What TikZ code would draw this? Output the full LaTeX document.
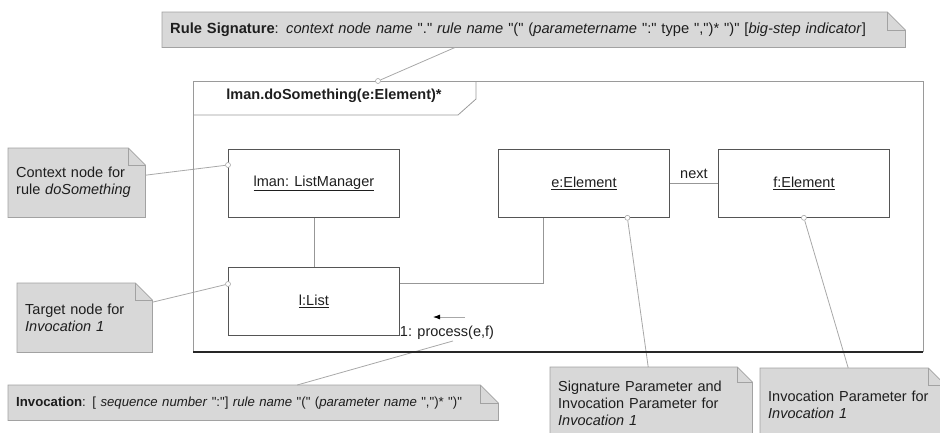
\documentclass[tikz,border=0pt]{standalone}
\usepackage{fontspec}
\setmainfont{Liberation Sans}[Ligatures=TeXOff]
\usetikzlibrary{calc,arrows.meta,backgrounds}

\definecolor{ink}{HTML}{1E1E1E}
\definecolor{notefill}{HTML}{D8D8D8}
\definecolor{noteline}{HTML}{A2A2A2}
\definecolor{boxline}{HTML}{555555}
\definecolor{linkgray}{HTML}{A8A8A8}
\definecolor{framegray}{HTML}{9A9A9A}

\newcommand{\fs}{\fontsize{14.5}{17}\selectfont}

% sheet of a note: filled body with a dog-eared top right corner
\newcommand{\notepaper}[2]{%
  \path[fill=notefill] (#1.north west) -- ([xshift=-#2]#1.north east)
    -- ([yshift=-#2]#1.north east) -- (#1.south east) -- (#1.south west) -- cycle;
  \draw[noteline, line width=0.8pt] (#1.south west) -- (#1.north west)
    -- ([xshift=-#2]#1.north east) -- ([yshift=-#2]#1.north east)
    -- (#1.south east) -- cycle;
  \draw[noteline, line width=0.8pt] ([xshift=-#2]#1.north east) |- ([yshift=-#2]#1.north east);
}

\tikzset{
  note/.style={anchor=north west, inner xsep=8pt, inner ysep=0pt, align=left, font=\fs, text=ink},
  obj/.style={anchor=north west, draw=boxline, line width=0.8pt, minimum width=171pt,
    minimum height=68pt, inner sep=0pt, font=\fs, text=ink},
  port/.style={circle, draw=linkgray, fill=white, inner sep=0pt, minimum size=5pt, line width=0.6pt},
  link/.style={draw=linkgray, line width=0.8pt},
  assoc/.style={draw=linkgray!90!black, line width=0.8pt},
}

\begin{document}
\begin{tikzpicture}[x=1pt, y=-1pt, every node/.style={text=ink}]
\useasboundingbox (0,0) rectangle (940,432);

% frame of the rule
\coordinate (fnw) at (193,81);
\coordinate (fse) at (923,352);
\draw[framegray, line width=0.8pt] (fnw |- fse) -- (fnw) -- (fnw -| fse) -- (fse);
\draw[black!85, line width=1.8pt] (fnw |- fse) -- (fse);
\draw[framegray, line width=0.8pt] (193,115) -- (458,115) -- (476,99) -- (476,81);
\node[font=\fs\bfseries] (tab) at (334,96) {lman.doSomething(e:Element)*};

% objects
\node[obj] (lman) at (228,149) {\underline{lman: ListManager}};
\node[obj] (list) at (228,267) {\underline{l:List}};
\node[obj] (e) at (498,149) {\underline{e:Element}};
\node[obj] (f) at (718,149) {\underline{f:Element}};

% links between objects
\draw[assoc] (lman) -- (list);
\draw[assoc] (e) -- node[above=1pt, font=\fs] (nextlbl) {next} (f);
\draw[assoc] ([yshift=18pt]list.east) -| ([xshift=-40.5pt]e.south);

% invocation message
\coordinate (msgtail) at (465,317);
\coordinate (msghead) at (433,317);
\draw[link, -{Latex[length=7pt, width=5pt, color=black]}] (msgtail) -- (msghead);
\node[font=\fs, inner sep=1pt] (msg) at (447,333) {1: process(e,f)};

% notes
\node[note, text width=727pt, minimum height=35pt, font=\fontsize{14.7}{17}\selectfont] (sig) at (162,12)
  {\textbf{Rule Signature}: \textit{context node name} "." \textit{rule name} "(" (\textit{parametername} ":" type ",")* ")" [\textit{big-step indicator}]};
\node[note, text width=121pt, minimum height=69pt] (ctx) at (8,148)
  {Context node for\\rule \textit{doSomething}};
\node[note, text width=119pt, minimum height=69pt] (tgt) at (17,283)
  {Target node for\\\textit{Invocation 1}};
\node[note, text width=474pt, minimum height=35pt, font=\fontsize{13.2}{17}\selectfont] (inv) at (8,385)
  {\textbf{Invocation}: [ \textit{sequence number} ":"] \textit{rule name} "(" (\textit{parameter name} ",")* ")"};
\node[note, text width=186pt, minimum height=72pt] (sp) at (550,367)
  {Signature Parameter and\\Invocation Parameter for\\\textit{Invocation 1}};
\node[note, text width=169pt, minimum height=74pt] (ip) at (760,368)
  {Invocation Parameter for\\\textit{Invocation 1}};

\begin{scope}[on background layer]
  \clip (0,0) rectangle (940,432);
  \notepaper{sig}{18pt}
  \notepaper{ctx}{17pt}
  \notepaper{tgt}{17pt}
  \notepaper{inv}{18pt}
  \notepaper{sp}{15pt}
  \notepaper{ip}{17pt}
\end{scope}

% ports
\node[port] (pFrame) at (378,81) {};
\node[port] (pLman) at (lman.west |- 0,165) {};
\node[port] (pList) at (list.west |- 0,284) {};
\node[port] (pE) at ([xshift=43.5pt]e.south) {};
\node[port] (pF) at (f.south) {};

% note anchors
\begin{scope}[on background layer]
  \draw[link] ([xshift=-78.5pt]sig.south) -- (pFrame);
  \draw[link] ([yshift=7.5pt]ctx.east) -- (pLman);
  \draw[link] ([yshift=15.5pt]tgt.east) -- (pList);
  \draw[link] ([xshift=6pt]msg.south) -- ([xshift=44pt]inv.north);
  \draw[link] (pE) -- ([xshift=-3pt]sp.north);
  \draw[link] (pF) -- ([xshift=-4.5pt]ip.north);
\end{scope}
\end{tikzpicture}
\end{document}
